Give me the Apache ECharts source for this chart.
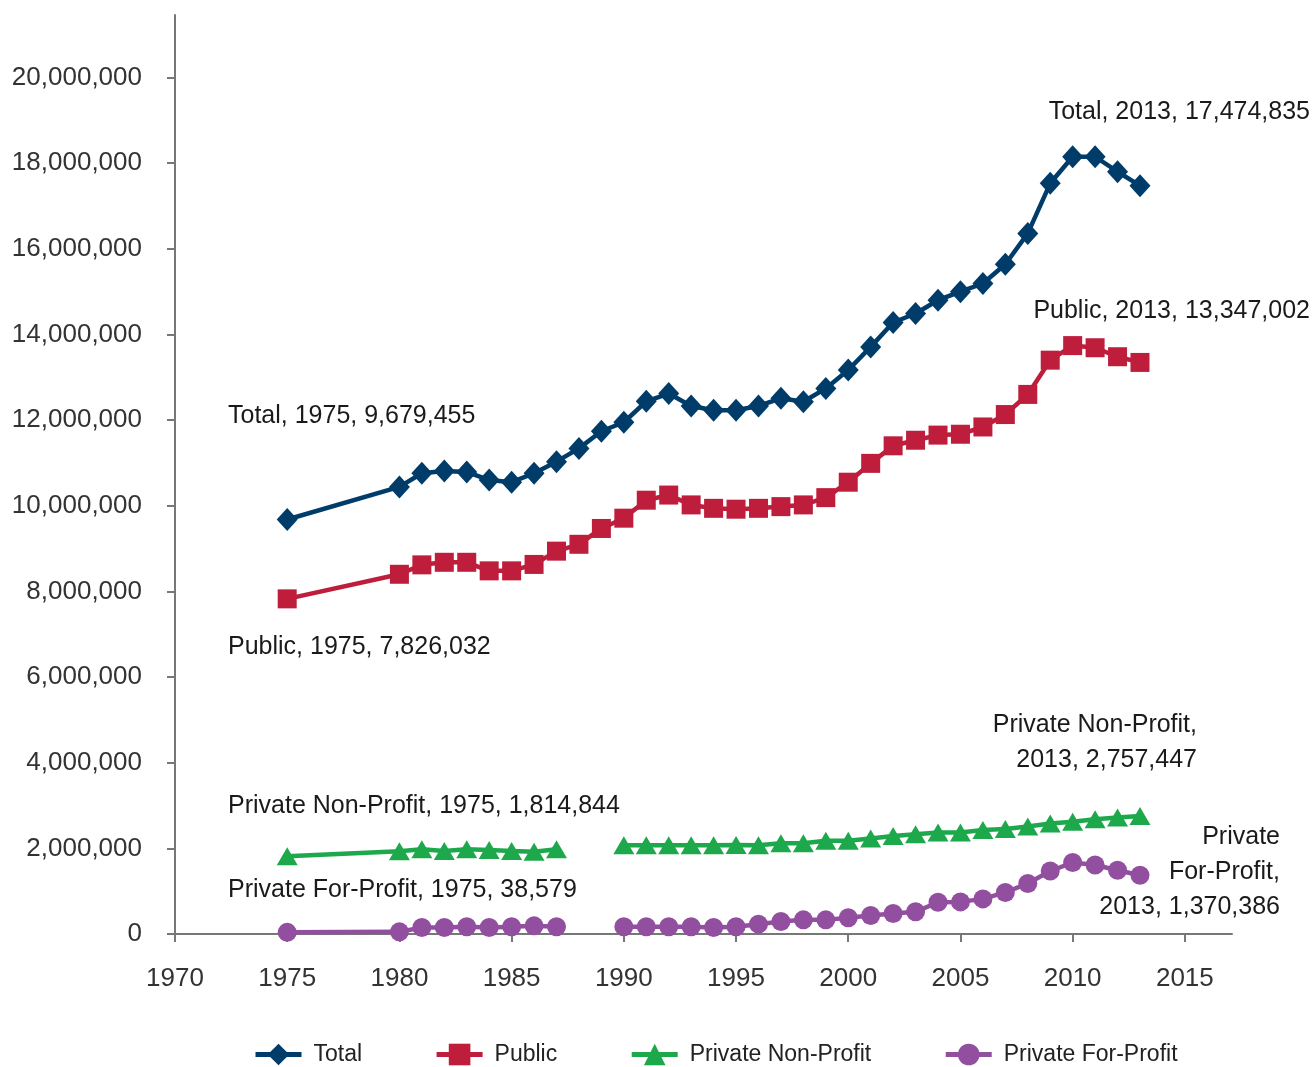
<!DOCTYPE html>
<html>
<head>
<meta charset="utf-8">
<script src="https://cdn.jsdelivr.net/npm/echarts@6/dist/echarts.min.js"></script>
<style>
html,body{margin:0;padding:0;background:#fff;}
#chart{width:1314px;height:1067px;}
</style>
</head>
<body>
<div id="chart"></div>
<script>
// ---- Data ----
var years = [1975,1980,1981,1982,1983,1984,1985,1986,1987,1988,1989,1990,1991,1992,1993,1994,1995,1996,1997,1998,1999,2000,2001,2002,2003,2004,2005,2006,2007,2008,2009,2010,2011,2012,2013];

var totalValues = [9679455,10440000,10760000,10810000,10790000,10600000,10550000,10760000,11030000,11340000,11740000,11950000,12440000,12620000,12330000,12230000,12230000,12330000,12510000,12430000,12740000,13170000,13710000,14280000,14490000,14800000,15000000,15190000,15640000,16360000,17530000,18150000,18150000,17800000,17474835];

var publicValues = [7826032,8400000,8620000,8680000,8680000,8480000,8480000,8630000,8940000,9100000,9470000,9710000,10130000,10250000,10020000,9940000,9920000,9940000,9980000,10020000,10190000,10550000,10990000,11400000,11530000,11650000,11670000,11840000,12130000,12600000,13400000,13740000,13690000,13480000,13347002];

// null = not reported (1988, 1989)
var nonProfitValues = [1814844,1930000,1980000,1940000,1980000,1960000,1940000,1920000,1980000,null,null,2070000,2070000,2070000,2070000,2070000,2080000,2070000,2120000,2120000,2180000,2180000,2230000,2290000,2330000,2370000,2370000,2430000,2450000,2510000,2580000,2620000,2680000,2720000,2757447];

var forProfitValues = [38579,50000,150000,150000,170000,150000,170000,190000,170000,null,null,170000,170000,170000,170000,150000,170000,230000,290000,330000,330000,380000,430000,480000,520000,740000,750000,820000,970000,1180000,1470000,1670000,1610000,1490000,1370386];

var seriesNames = ['Total','Public','Private Non-Profit','Private For-Profit'];
var xTicks = [1970,1975,1980,1985,1990,1995,2000,2005,2010,2015];
var yTicks = [0,2000000,4000000,6000000,8000000,10000000,12000000,14000000,16000000,18000000,20000000];

// ---- helpers ----
function pairs(vals){ return years.map(function(y,i){ return [y, vals[i] === null ? '-' : vals[i]]; }); }
function fmt(n){ return String(Math.round(n)).replace(/\B(?=(\d{3})+(?!\d))/g, ','); }

var FONT = '"Liberation Sans",Arial,sans-serif';
var colors = ['#003C69','#BE1E3C','#1DA94B','#934F9F'];
var axisColor = '#777777';
var textColor = '#1a1a1a';

var chart = echarts.init(document.getElementById('chart'), null, {renderer:'canvas'});

function lineSeries(name, vals, color, symbol, size){
  return {
    name: name, type: 'line', data: pairs(vals),
    symbol: symbol, symbolSize: size, connectNulls: false,
    itemStyle: {color: color},
    lineStyle: {color: color, width: 4.5},
    emphasis: {disabled: true},
    z: 3
  };
}

var last = years.length - 1;
function ann(x, y, text, align){
  return {type:'text', x: x, y: y, style: {text: text, fill: textColor, font: '25px ' + FONT, textAlign: align || 'left', textVerticalAlign: 'middle', lineHeight: 35}, z: 10};
}

var option = {
  backgroundColor: '#ffffff',
  animation: false,
  grid: {left: 175, right: 82, top: 15, bottom: 133, containLabel: false, outerBoundsMode: 'none'},
  xAxis: {
    type: 'value', min: 1970, max: 2017.1, interval: 5,
    axisLine: {show: true, lineStyle: {color: axisColor, width: 2}},
    axisTick: {show: true, length: 8, lineStyle: {color: axisColor, width: 2}, customValues: xTicks},
    axisLabel: {color: '#333333', fontSize: 26, fontFamily: FONT, margin: 32, customValues: xTicks,
      formatter: function(v){ return String(v); }},
    splitLine: {show: false}
  },
  yAxis: {
    type: 'value', min: 0, max: 21460000, interval: 2000000,
    axisLine: {show: true, lineStyle: {color: axisColor, width: 2}},
    axisTick: {show: true, length: 8, lineStyle: {color: axisColor, width: 2}, customValues: yTicks},
    axisLabel: {color: '#333333', fontSize: 26, fontFamily: FONT, margin: 33, customValues: yTicks,
      formatter: function(v){ return fmt(v); }},
    splitLine: {show: false}
  },
  legend: {
    top: 1038, left: 248, itemWidth: 46, itemHeight: 27, itemGap: 72,
    selectedMode: false,
    lineStyle: {width: 5},
    textStyle: {color: '#222222', fontSize: 23, fontFamily: FONT, padding: [0,0,0,7]},
    data: seriesNames
  },
  series: [
    lineSeries(seriesNames[0], totalValues, colors[0], 'diamond', [21,23]),
    lineSeries(seriesNames[1], publicValues, colors[1], 'rect', 19),
    lineSeries(seriesNames[2], nonProfitValues, colors[2], 'triangle', [21,18]),
    lineSeries(seriesNames[3], forProfitValues, colors[3], 'circle', 19)
  ],
  graphic: [
    ann(228, 416, 'Total, ' + years[0] + ', ' + fmt(totalValues[0])),
    ann(228, 647, 'Public, ' + years[0] + ', ' + fmt(publicValues[0])),
    ann(228, 806, 'Private Non-Profit, ' + years[0] + ', ' + fmt(nonProfitValues[0])),
    ann(228, 890, 'Private For-Profit, ' + years[0] + ', ' + fmt(forProfitValues[0])),
    ann(1310, 112, 'Total, ' + years[last] + ', ' + fmt(totalValues[last]), 'right'),
    ann(1310, 311, 'Public, ' + years[last] + ', ' + fmt(publicValues[last]), 'right'),
    ann(1197, 743, 'Private Non-Profit,\n' + years[last] + ', ' + fmt(nonProfitValues[last]), 'right'),
    ann(1280, 872, 'Private\nFor-Profit,\n' + years[last] + ', ' + fmt(forProfitValues[last]), 'right')
  ]
};
chart.setOption(option);
</script>
</body>
</html>
